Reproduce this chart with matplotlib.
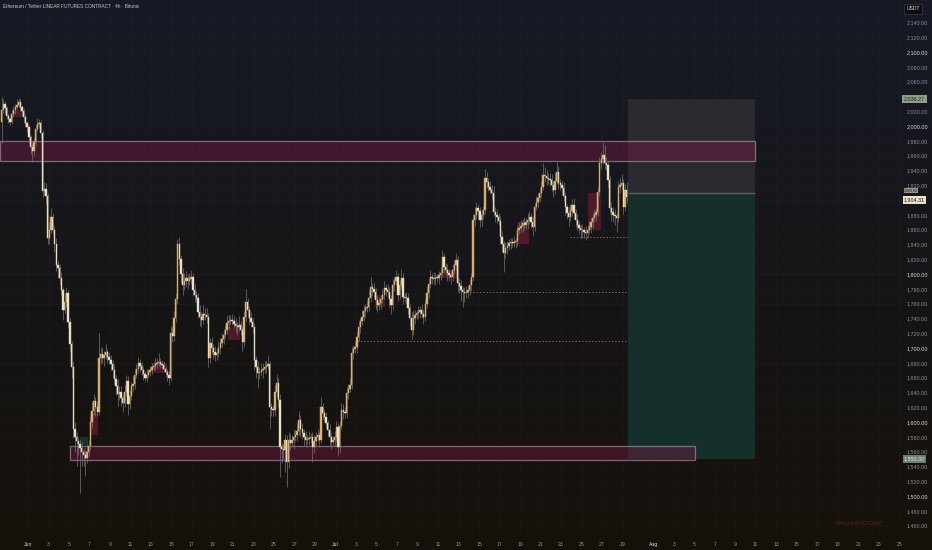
import numpy as np
import matplotlib
matplotlib.use("Agg")
import matplotlib.pyplot as plt
from matplotlib.patches import Rectangle

# ---------------- DATA ----------------
# 4h candles, first one starts May 29 08:00; x unit = days since Jun 1 00:00
start_day = -3 + 8 / 24
first_open = 2005
closes = [
    2022, 2030, 2024, 2014,                    # May 29
    2010, 2006, 2016, 2021, 2026, 2029,        # May 30
    2032, 2026, 2020, 2012, 2004, 1998,        # May 31
    1985, 1972, 1966, 1978, 1996, 2003,        # Jun 1
    2004, 1990, 1912, 1915, 1905, 1848,        # Jun 2
    1860, 1877, 1860, 1840, 1812, 1808,        # Jun 3
    1795, 1778, 1752, 1762, 1774, 1735,        # Jun 4
    1705, 1674, 1590, 1580, 1575, 1570,        # Jun 5
    1565, 1560, 1556, 1552, 1560, 1568,        # Jun 6
    1600, 1615, 1628, 1620, 1614, 1686,        # Jun 7
    1692, 1686, 1690, 1694, 1688, 1684,        # Jun 8
    1678, 1670, 1658, 1648, 1638, 1640,        # Jun 9
    1632, 1626, 1640, 1656, 1624, 1635,        # Jun 10
    1648, 1652, 1664, 1672, 1680, 1676,        # Jun 11
    1670, 1665, 1660, 1664, 1667, 1670,        # Jun 12
    1674, 1676, 1678, 1680, 1681, 1679,        # Jun 13
    1677, 1672, 1667, 1664, 1660, 1720,        # Jun 14
    1716, 1740, 1766, 1840, 1820, 1800,        # Jun 15
    1785, 1790, 1794, 1790, 1793, 1796,        # Jun 16
    1778, 1772, 1768, 1748, 1742, 1738,        # Jun 17
    1746, 1744, 1742, 1686, 1707, 1700,        # Jun 18
    1695, 1690, 1693, 1700, 1707, 1712,        # Jun 19
    1718, 1725, 1734, 1736, 1738, 1737,        # Jun 20
    1733, 1730, 1728, 1731, 1725, 1708,        # Jun 21
    1742, 1762, 1752, 1741, 1735, 1728,        # Jun 22
    1684, 1675, 1666, 1668, 1670, 1672,        # Jun 23
    1674, 1676, 1678, 1620, 1618, 1616,        # Jun 24
    1640, 1653, 1630, 1566, 1564, 1562,        # Jun 25
    1576, 1546, 1576, 1572, 1576, 1580,        # Jun 26
    1583, 1588, 1603, 1590, 1585, 1580,        # Jun 27
    1576, 1577, 1578, 1580, 1566, 1575,        # Jun 28
    1580, 1582, 1576, 1620, 1612, 1607,        # Jun 29
    1598, 1589, 1580, 1573, 1576, 1580,        # Jun 30
    1593, 1566, 1595, 1616, 1614, 1612,        # Jul 1
    1639, 1645, 1650, 1693, 1698, 1701,        # Jul 2
    1715, 1728, 1736, 1742, 1750, 1754,        # Jul 3
    1755, 1768, 1782, 1780, 1776, 1765,        # Jul 4
    1758, 1761, 1766, 1772, 1781, 1778,        # Jul 5
    1776, 1766, 1758, 1785, 1790, 1796,        # Jul 6
    1772, 1785, 1795, 1769, 1768, 1768,        # Jul 7
    1754, 1740, 1724, 1741, 1745, 1747,        # Jul 8
    1749, 1751, 1746, 1742, 1760, 1774,        # Jul 9
    1786, 1796, 1795, 1793, 1795, 1795,        # Jul 10
    1798, 1801, 1823, 1810, 1805, 1801,        # Jul 11
    1798, 1796, 1805, 1812, 1819, 1788,        # Jul 12
    1784, 1778, 1776, 1774, 1776, 1778,        # Jul 13
    1785, 1796, 1873, 1880, 1889, 1885,        # Jul 14
    1873, 1880, 1886, 1930, 1924, 1918,        # Jul 15
    1914, 1909, 1884, 1880, 1877, 1872,        # Jul 16
    1850, 1840, 1828, 1835, 1838, 1842,        # Jul 17
    1843, 1842, 1843, 1844, 1859, 1862,        # Jul 18
    1865, 1869, 1866, 1870, 1873, 1877,        # Jul 19
    1870, 1864, 1891, 1897, 1903, 1910,        # Jul 20
    1918, 1934, 1932, 1930, 1928, 1927,        # Jul 21
    1920, 1914, 1926, 1938, 1923, 1920,        # Jul 22
    1916, 1905, 1890, 1882, 1877, 1885,        # Jul 23
    1893, 1882, 1873, 1866, 1862, 1860,        # Jul 24
    1859, 1857, 1855, 1860, 1864, 1870,        # Jul 25
    1876, 1880, 1884, 1911, 1950, 1955,        # Jul 26
    1961, 1950, 1947, 1927, 1889, 1884,        # Jul 27
    1880, 1878, 1876, 1918, 1920, 1923,        # Jul 28
    1891, 1914, 1904,                          # Jul 29
]
wick_up = [
    17, 6, 4, 3,
    3, 4, 5, 6, 4, 8,
    6, 4, 3, 5, 4, 3,
    4, 3, 5, 6, 5, 8,
    6, 4, 5, 10, 8, 4,
    10, 12, 6, 5, 8, 6,
    6, 8, 5, 12, 8, 5,
    6, 5, 8, 10, 6, 5,
    6, 8, 5, 6, 10, 8,
    8, 12, 10, 6, 8, 34,
    10, 8, 6, 12, 5, 6,
    6, 5, 8, 6, 10, 8,
    8, 6, 10, 8, 6, 8,
    6, 10, 8, 6, 8, 5,
    5, 6, 4, 8, 5, 6,
    6, 5, 8, 6, 12, 5,
    5, 6, 4, 5, 6, 10,
    8, 10, 8, 7, 10, 6,
    8, 12, 10, 6, 8, 10,
    6, 8, 5, 6, 10, 6,
    12, 8, 10, 5, 6, 8,
    6, 8, 5, 10, 6, 8,
    8, 6, 10, 8, 6, 8,
    6, 8, 5, 12, 6, 5,
    8, 18, 6, 5, 8, 6,
    6, 5, 8, 6, 10, 8,
    8, 6, 12, 5, 6, 5,
    10, 12, 6, 8, 5, 6,
    8, 6, 10, 8, 6, 10,
    6, 10, 12, 6, 8, 5,
    8, 6, 10, 5, 6, 8,
    6, 8, 5, 14, 6, 5,
    6, 5, 8, 6, 5, 8,
    8, 5, 6, 10, 8, 6,
    8, 6, 10, 8, 6, 8,
    6, 8, 5, 10, 8, 6,
    8, 10, 14, 6, 8, 5,
    6, 8, 5, 8, 10, 6,
    8, 6, 5, 8, 6, 10,
    6, 8, 12, 6, 5, 8,
    6, 5, 8, 10, 6, 5,
    8, 6, 8, 5, 6, 10,
    8, 10, 6, 8, 6, 5,
    6, 8, 10, 6, 5, 8,
    6, 5, 8, 6, 10, 6,
    6, 8, 5, 6, 8, 6,
    8, 6, 8, 10, 8, 6,
    6, 8, 6, 12, 8, 6,
    8, 6, 10, 6, 8, 5,
    6, 8, 5, 8, 6, 5,
    5, 6, 8, 5, 6, 8,
    8, 6, 8, 6, 10, 8,
    6, 8, 5, 8, 6, 8,
    8, 16, 10, 8, 6, 8,
    8, 6, 10, 13, 8, 6,
    6, 8, 6, 5, 8, 10,
    8, 10, 6, 8, 5, 6,
    6, 5, 8, 6, 8, 6,
    6, 8, 5, 6, 8, 10,
    18, 14, 8, 6, 5, 8,
    6, 8, 5, 8, 10, 12,
    6, 8, 10,
]
wick_dn = [
    28, 5, 8, 4,
    6, 5, 3, 4, 5, 3,
    4, 5, 6, 8, 5, 6,
    8, 10, 14, 6, 4, 3,
    5, 6, 8, 5, 10, 8,
    8, 5, 6, 10, 8, 14,
    10, 6, 14, 5, 6, 8,
    10, 14, 12, 20, 35, 15,
    61, 20, 15, 25, 8, 6,
    6, 8, 5, 12, 6, 4,
    8, 6, 10, 5, 8, 6,
    8, 10, 6, 12, 16, 8,
    10, 12, 6, 5, 14, 6,
    5, 6, 8, 5, 6, 8,
    6, 8, 5, 6, 4, 5,
    5, 4, 6, 5, 4, 6,
    6, 5, 6, 8, 10, 5,
    8, 6, 5, 6, 8, 12,
    14, 6, 8, 10, 5, 6,
    8, 10, 6, 8, 12, 10,
    5, 6, 8, 12, 6, 8,
    10, 8, 6, 5, 8, 6,
    6, 5, 6, 8, 5, 6,
    6, 8, 10, 5, 8, 12,
    6, 5, 10, 8, 6, 8,
    14, 16, 20, 8, 6, 10,
    6, 8, 5, 30, 10, 8,
    8, 6, 10, 40, 20, 12,
    30, 34, 8, 10, 6, 12,
    6, 8, 5, 10, 8, 12,
    10, 6, 8, 6, 20, 8,
    8, 6, 10, 5, 8, 6,
    6, 8, 12, 10, 6, 8,
    6, 12, 8, 5, 10, 6,
    6, 8, 5, 6, 8, 5,
    8, 6, 8, 5, 6, 8,
    6, 5, 6, 10, 8, 12,
    10, 6, 8, 5, 6, 8,
    8, 10, 12, 6, 8, 5,
    8, 6, 5, 10, 6, 8,
    8, 10, 12, 6, 8, 6,
    6, 8, 6, 10, 5, 6,
    6, 5, 8, 6, 8, 6,
    8, 6, 5, 8, 6, 10,
    8, 10, 6, 5, 6, 12,
    10, 14, 20, 12, 6, 8,
    6, 8, 5, 8, 6, 10,
    10, 8, 6, 5, 8, 6,
    6, 8, 6, 10, 8, 6,
    8, 10, 25, 6, 8, 6,
    8, 6, 5, 8, 6, 5,
    6, 8, 6, 5, 8, 6,
    8, 12, 6, 5, 8, 6,
    6, 5, 8, 10, 6, 8,
    8, 10, 6, 5, 8, 6,
    8, 6, 10, 8, 12, 6,
    6, 8, 10, 6, 8, 12,
    10, 8, 9, 6, 5, 8,
    8, 6, 8, 5, 6, 8,
    6, 8, 6, 10, 8, 12,
    10, 12, 19, 6, 8, 6,
    10, 6, 8,
]

# zones: (day_start, day_end, price_low, price_high)
supply_zone = (-2.75, 70.93, 1953, 1980)
demand_zone = (4.10, 65.07, 1549, 1568)
# position tool
pos_start, pos_end = 58.54, 70.93
stop_price, entry_price, target_price = 2036.27, 1909.5, 1550.32
last_price = 1904.31
# dotted levels: (price, day_start, day_end)
levels = [(1850, 52.88, 58.54), (1776, 42.44, 58.54), (1709, 32.10, 58.54)]
# small highlight boxes: (day_start, day_end, price_low, price_high)
red_boxes = [(-1.46, -0.59, 2012, 2022), (6.05, 6.83, 1582, 1612),
             (12.10, 13.56, 1666, 1680), (19.50, 20.70, 1711, 1728),
             (33.85, 34.83, 1755, 1772), (40.50, 41.85, 1795, 1805),
             (47.70, 48.90, 1840, 1870), (54.63, 55.90, 1859, 1909)]
green_boxes = [(5.07, 5.85, 1569, 1580)]

x_tick_days = [0, 2, 4, 6, 8, 10, 12, 14, 16, 18, 20, 22, 24, 26, 28,
               30, 32, 34, 36, 38, 40, 42, 44, 46, 48, 50, 52, 54, 56, 58,
               61, 63, 65, 67, 69, 71, 73, 75, 77, 79, 81, 83, 85]
x_tick_labels = ['Jun', '3', '5', '7', '9', '11', '13', '15', '17', '19', '21', '23', '25', '27', '29',
                 'Jul', '3', '5', '7', '9', '11', '13', '15', '17', '19', '21', '23', '25', '27', '29',
                 'Aug', '3', '5', '7', '9', '11', '13', '15', '17', '19', '21', '23', '25']
price_ticks = list(range(1460, 2141, 20))
strong_ticks = [1500, 1600, 1700, 1800, 1900, 2000, 2100]
hidden_ticks = [1900, 2040]   # covered by the price labels in the reference

title = "Ethereum / Tether LINEAR FUTURES CONTRACT · 4h · Bitunix"

# ---------------- FIGURE ----------------
plt.rcParams['font.family'] = ['Liberation Sans', 'DejaVu Sans']
W, H = 932, 550
fig = plt.figure(figsize=(W / 100, H / 100), dpi=100)

# background gradient
bg = fig.add_axes([0, 0, 1, 1], zorder=-10)
top = np.array([23, 26, 37]) / 255
bot = np.array([21, 17, 10]) / 255
g = np.linspace(0, 1, 256)[:, None]
grad = (top[None, :] * (1 - g) + bot[None, :] * g)[:, None, :]
bg.imshow(grad, aspect='auto', extent=[0, 1, 0, 1], origin='upper')
bg.set_axis_off()

ax = fig.add_axes([0, 15 / H, 900 / W, 535 / H])
ax.set_facecolor('none')
ax.set_xlim(-2.732, 85.07)
ax.set_ylim(1447.3, 2170.3)
for s in ax.spines.values():
    s.set_visible(False)

# grid
for xd in x_tick_days:
    ax.axvline(xd, color='#ffffff', alpha=0.025, lw=0.6, zorder=0)
for p in price_ticks:
    ax.axhline(p, color='#ffffff', alpha=0.025, lw=0.6, zorder=0)

# position tool
ax.add_patch(Rectangle((pos_start, entry_price), pos_end - pos_start, stop_price - entry_price,
                       fc='#2a2b30', ec='none', zorder=1))
ax.add_patch(Rectangle((pos_start, target_price), pos_end - pos_start, entry_price - target_price,
                       fc='#15302b', ec='none', zorder=1))
ax.hlines(entry_price, pos_start, pos_end, color='#5d6062', lw=1.0, zorder=2)

# zones
for (x0, x1, p0, p1) in [supply_zone, demand_zone]:
    ax.add_patch(Rectangle((x0, p0), x1 - x0, p1 - p0, fc=(0.45, 0.10, 0.26, 0.45),
                           ec=(0.75, 0.68, 0.72, 0.55), lw=0.9, zorder=2))

# highlight boxes
for (x0, x1, p0, p1) in red_boxes:
    ax.add_patch(Rectangle((x0, p0), x1 - x0, p1 - p0, fc='#5a1a2e', ec='none', alpha=0.85, zorder=3))
for (x0, x1, p0, p1) in green_boxes:
    ax.add_patch(Rectangle((x0, p0), x1 - x0, p1 - p0, fc='#163a30', ec='none', alpha=0.9, zorder=3))

# dotted levels
for (p, x0, x1) in levels:
    ax.hlines(p, x0, x1, color='#b07055', lw=0.7, linestyles=(0, (1.2, 2.2)), zorder=3)

# candles
c = np.array(closes, dtype=float)
o = np.concatenate([[first_open], c[:-1]])
hi = np.maximum(o, c) + np.array(wick_up)
lo = np.minimum(o, c) - np.array(wick_dn)
t = start_day + np.arange(len(c)) / 6 + 1 / 12
up = c >= o
ax.vlines(t, lo, hi, color='#6c6c70', lw=0.55, zorder=4)
body_lo = np.minimum(o, c)
body_h = np.maximum(np.abs(c - o), 0.8)
ax.bar(t[up], body_h[up], bottom=body_lo[up], width=0.13, color='#d8b06a',
       edgecolor='#d8b06a', lw=0.3, zorder=5)
ax.bar(t[~up], body_h[~up], bottom=body_lo[~up], width=0.13, color='#eee6d2',
       edgecolor='#e2cfa6', lw=0.3, zorder=5)

# ticks
ax.yaxis.tick_right()
ax.set_yticks(price_ticks)
ax.set_yticklabels(["" if p in hidden_ticks else f"{p:,.2f}" for p in price_ticks])
ax.tick_params(axis='y', length=0, pad=5, labelsize=3.9)
for lab, p in zip(ax.get_yticklabels(), price_ticks):
    lab.set_color('#dcdcdc' if p in strong_ticks else '#8d9098')
ax.set_xticks(x_tick_days)
ax.set_xticklabels(x_tick_labels)
ax.tick_params(axis='x', length=0, pad=5, labelsize=3.7)
for lab in ax.get_xticklabels():
    txt = lab.get_text()
    lab.set_color('#e0e0e0' if txt in ('Jun', 'Jul', 'Aug') else '#8d9098')

# right-axis price labels
tr = ax.get_yaxis_transform()
xl = 1 + 4 / 900
ax.text(xl, stop_price, f"{stop_price:,.2f}", transform=tr, ha='left', va='center',
        fontsize=3.9, color='#1a1d1a', clip_on=False, zorder=20,
        bbox=dict(boxstyle='square,pad=0.3', fc='#8e9f88', ec='none'))
ax.text(xl, entry_price + 3.5, f"{entry_price:,.2f}", transform=tr, ha='left', va='center',
        fontsize=2.6, color='#1a1d1a', clip_on=False, zorder=20,
        bbox=dict(boxstyle='square,pad=0.1', fc='#8e9f88', ec='none'))
ax.text(xl, last_price - 4, f"{last_price:,.2f}", transform=tr, ha='left', va='center',
        fontsize=3.9, color='#1a1a18', clip_on=False, zorder=21,
        bbox=dict(boxstyle='square,pad=0.25', fc='#ebe3c8', ec='none'))
ax.text(xl, target_price, f"{target_price:,.2f}", transform=tr, ha='left', va='center',
        fontsize=3.9, color='#e8ece8', clip_on=False, zorder=20,
        bbox=dict(boxstyle='square,pad=0.25', fc='#6e7e72', ec='none'))

# title, currency box, watermark
fig.text(3 / W, 1 - 7 / H, title, ha='left', va='center', fontsize=3.4, color='#c8c8c8')
fig.text(913 / W, 1 - 8.5 / H, "USDT", ha='center', va='center', fontsize=3.6, color='#e0e0e0',
         bbox=dict(boxstyle='square,pad=0.5', fc='#0c0d11', ec='#3a3c42', lw=0.5))
ax.text(81.07, 1463.5, "SWALLOW ACADEMY", ha='center', va='center', fontsize=3.3,
        color='#5e1f30', zorder=6)

fig.savefig("out.png", dpi=100)
